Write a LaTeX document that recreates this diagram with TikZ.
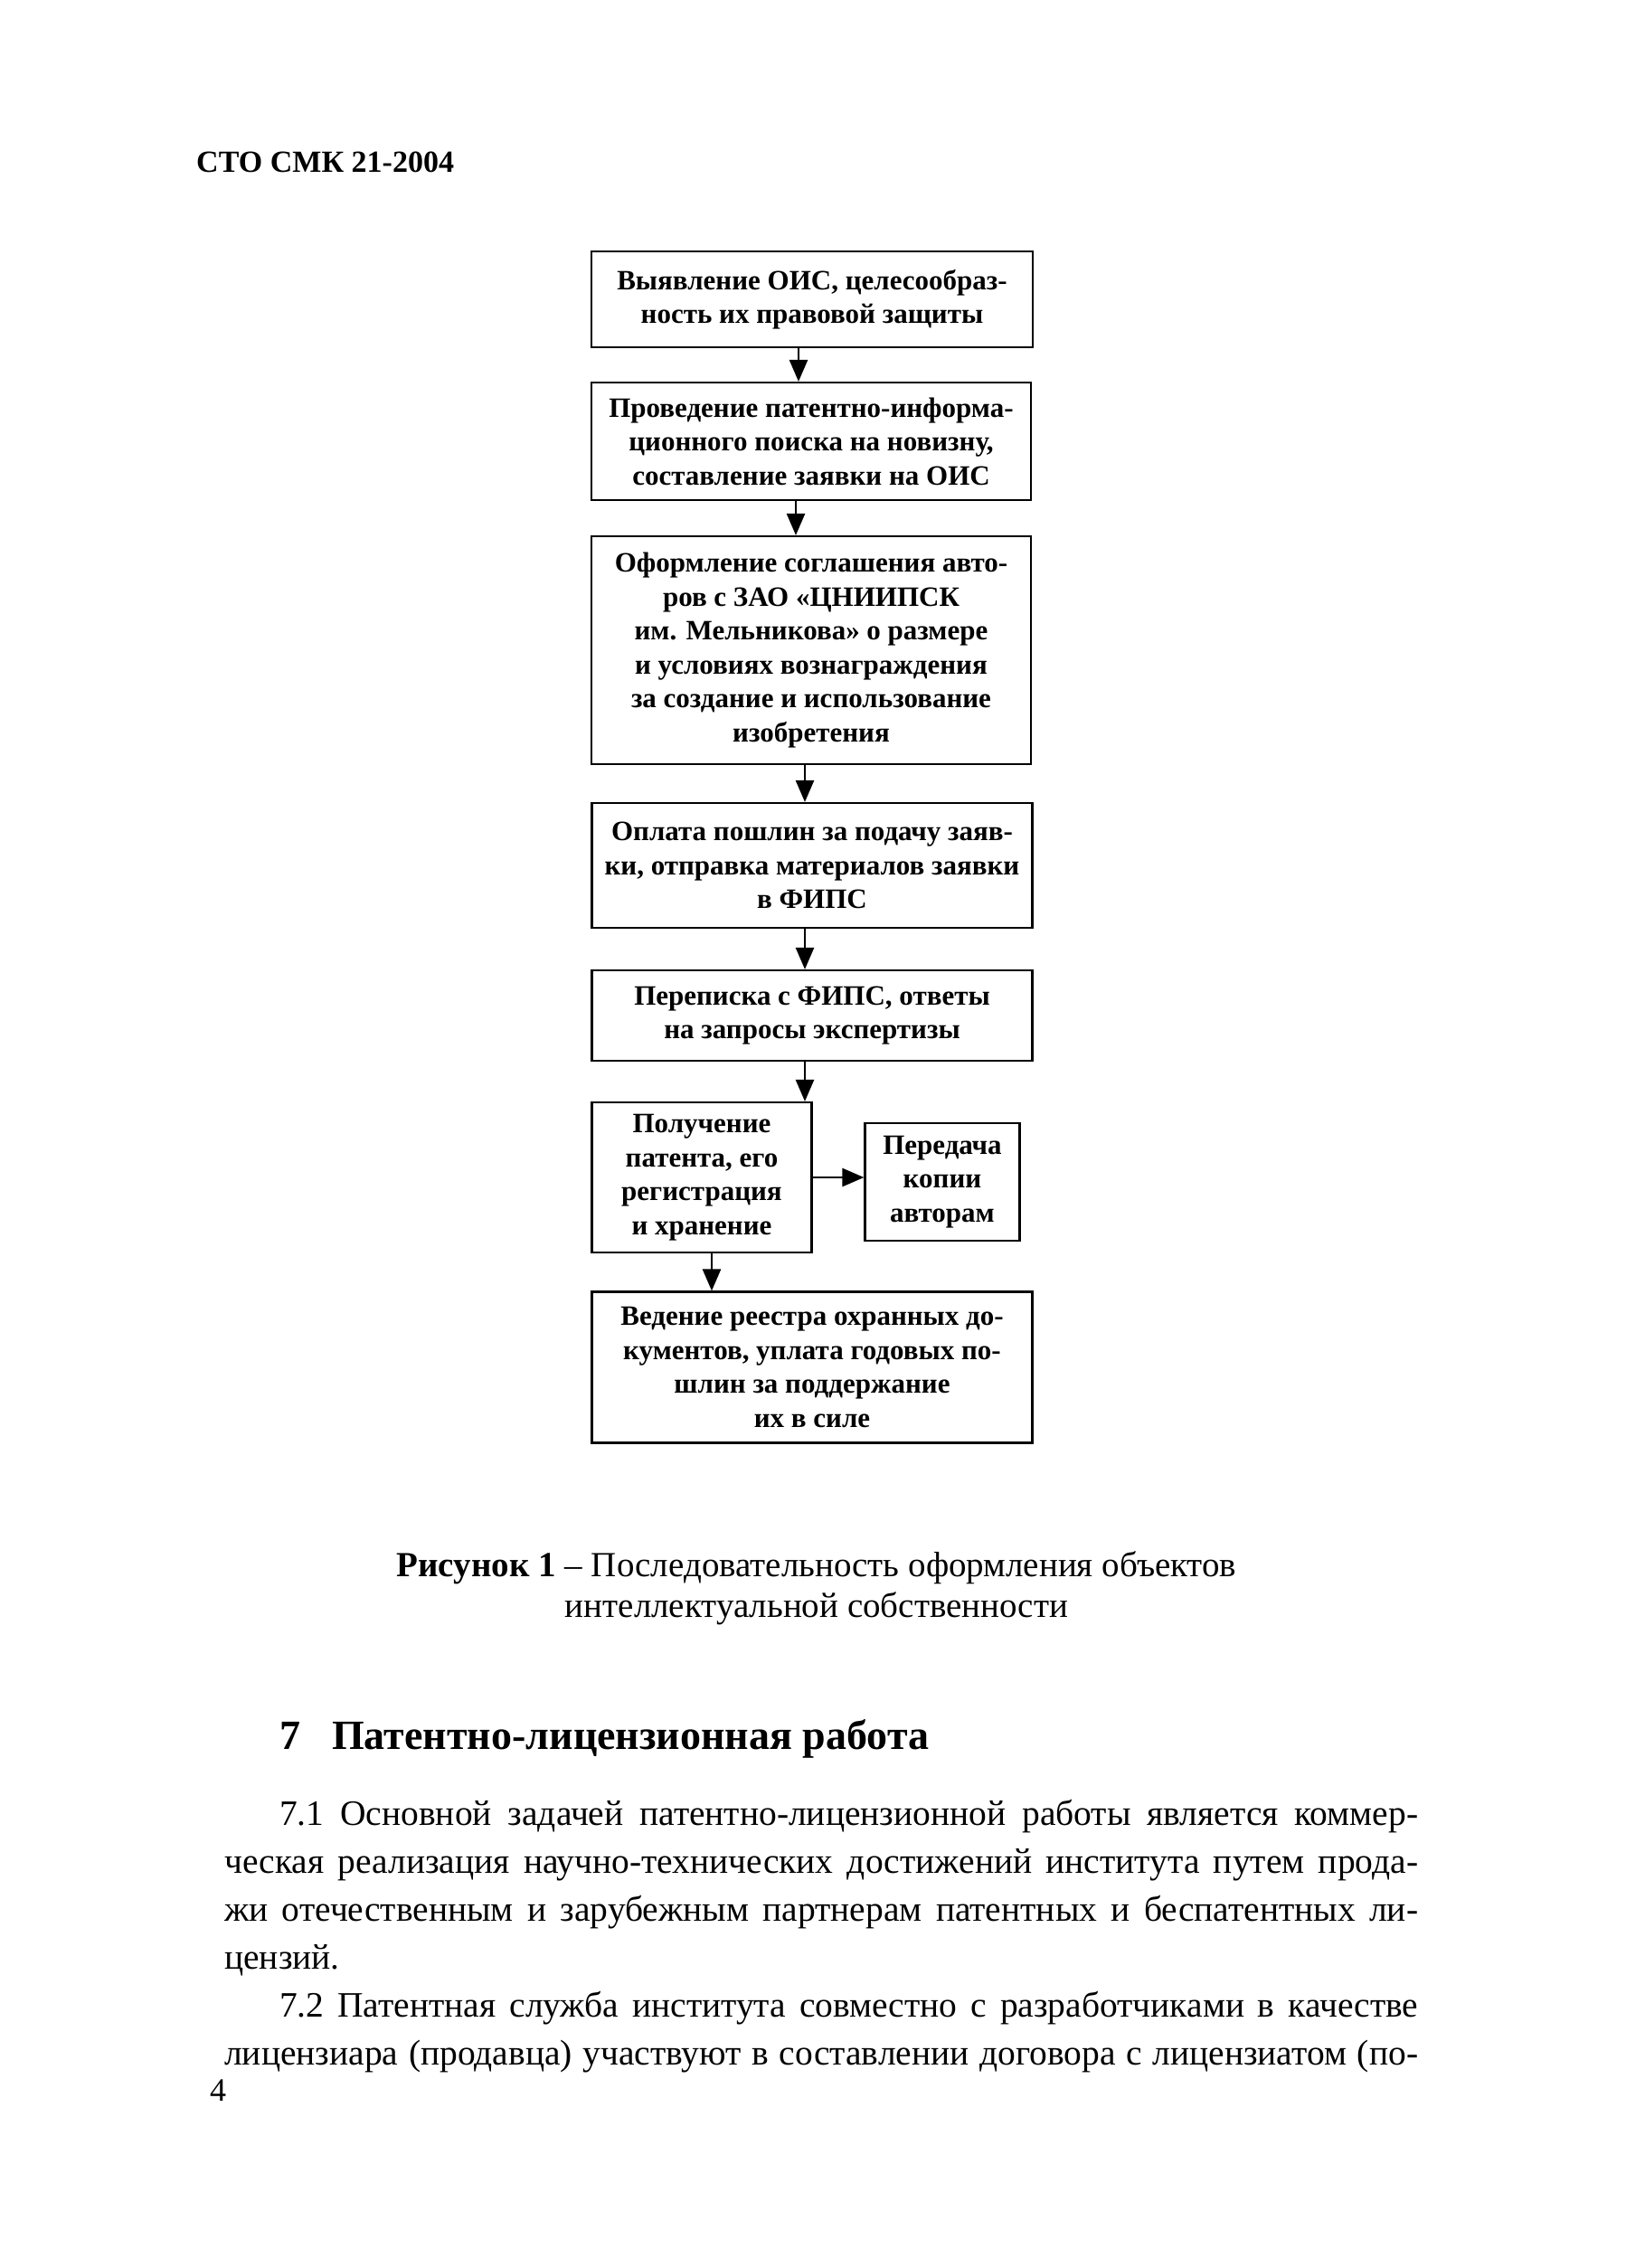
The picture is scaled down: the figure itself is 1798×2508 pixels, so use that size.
\documentclass[tikz,border=0pt]{standalone}
\usepackage{fontspec}
\setmainfont{Liberation Serif}
\usetikzlibrary{arrows.meta}
\begin{document}
\begin{tikzpicture}[x=1pt,y=-1pt,
  box/.style={draw, line width=2.2pt, align=center, inner sep=0pt,
    font=\bfseries\fontsize{31}{37.5}\selectfont},
  arr/.style={line width=2.6pt, -{Triangle[width=20pt,length=24pt]}},
  plain/.style={inner sep=0pt}]
\useasboundingbox[fill=white] (0,0) rectangle (1798,2508);

\node[plain, anchor=base west, font=\bfseries\fontsize{34}{40}\selectfont] (hdr) at (217,190) {СТО СМК 21-2004};

\node[box, minimum width=488pt, minimum height=106pt] (b1) at (898,331)
  {Выявление ОИС, целесообраз-\\ность их правовой защиты};
\node[box, minimum width=486pt, minimum height=130pt] (b2) at (897,488)
  {Проведение патентно-информа-\\ционного поиска на новизну,\\составление заявки на ОИС};
\node[box, minimum width=486pt, minimum height=252pt] (b3) at (897,719)
  {Оформление соглашения авто-\\ров с ЗАО «ЦНИИПСК\\им. Мельникова» о размере\\и условиях вознаграждения\\за создание и использование\\изобретения};
\node[box, minimum width=487pt, minimum height=138pt] (b4) at (898,957)
  {Оплата пошлин за подачу заяв-\\ки, отправка материалов заявки\\в ФИПС};
\node[box, minimum width=487pt, minimum height=100pt] (b5) at (898,1123)
  {Переписка с ФИПС, ответы\\на запросы экспертизы};
\node[box, minimum width=243pt, minimum height=166pt] (b6) at (776,1302)
  {Получение\\патента, его\\регистрация\\и хранение};
\node[box, minimum width=171pt, minimum height=130pt] (b7) at (1042,1307)
  {Передача\\копии\\авторам};
\node[box, minimum width=487pt, minimum height=167pt] (b8) at (898,1512)
  {Ведение реестра охранных до-\\кументов, уплата годовых по-\\шлин за поддержание\\их в силе};

\draw[arr] ([xshift=-15pt]b1.south) -- ([xshift=-15pt]b1.south |- b2.north);
\draw[arr] ([xshift=-17pt]b2.south) -- ([xshift=-17pt]b2.south |- b3.north);
\draw[arr] ([xshift=-7pt]b3.south) -- ([xshift=-7pt]b3.south |- b4.north);
\draw[arr] ([xshift=-8pt]b4.south) -- ([xshift=-8pt]b4.south |- b5.north);
\draw[arr] ([xshift=-8pt]b5.south) -- ([xshift=-8pt]b5.south |- b6.north);
\draw[arr] (b6.east) -- (b7.west |- b6.east);
\draw[arr] ([xshift=11pt]b6.south) -- ([xshift=11pt]b6.south |- b8.north);

\node[plain, align=center, font=\fontsize{39}{45}\selectfont] (cap) at (903,1756)
  {\textbf{Рисунок 1} – Последовательность оформления объектов\\интеллектуальной собственности};

\node[plain, anchor=base west, font=\bfseries\fontsize{46}{50}\selectfont] (h7) at (309,1934)
  {7\hspace{35pt}Патентно-лицензионная работа};

\node[plain, anchor=base west, text width=1320pt, align=justify,
  font=\fontsize{39.5}{53}\selectfont] (txt) at (248,2018)
  {\hyphenpenalty=10000 \exhyphenpenalty=10000 \tolerance=10000
   \hspace*{61pt}7.1 Основной задачей патентно-лицензионной работы является коммер-\linebreak
   ческая реализация научно-технических достижений института путем прода-\linebreak
   жи отечественным и зарубежным партнерам патентных и беспатентных ли-\linebreak
   цензий.\par
   {\parfillskip=0pt \hspace*{61pt}7.2 Патентная служба института совместно с разработчиками в качестве\linebreak
   лицензиара (продавца) участвуют в составлении договора с лицензиатом~(по-\par}};

\node[plain, anchor=base west, font=\fontsize{36}{40}\selectfont] (pg) at (232,2323) {4};
\end{tikzpicture}
\end{document}
